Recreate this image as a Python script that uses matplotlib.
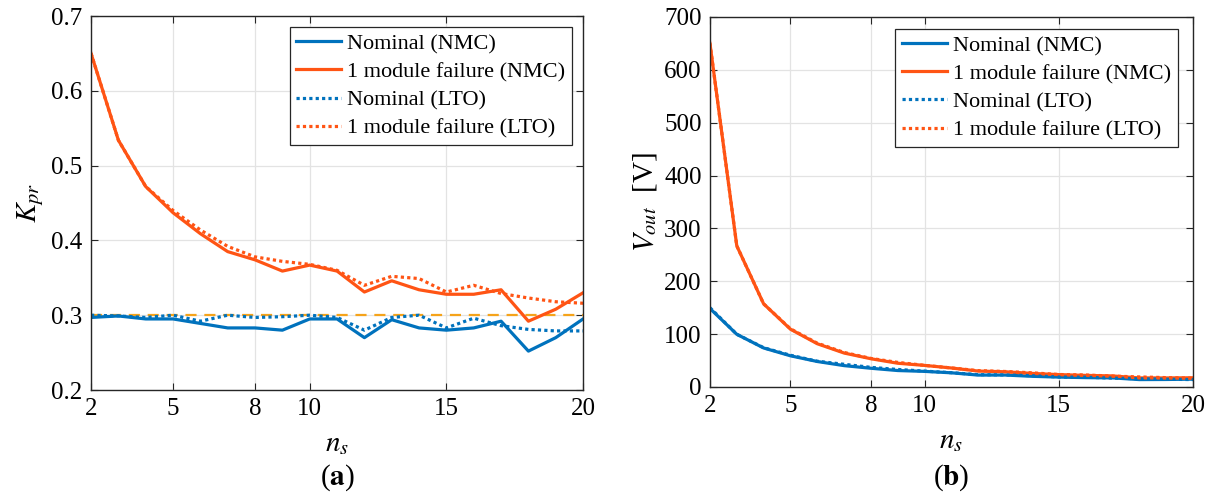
import matplotlib
matplotlib.use("Agg")
import matplotlib.pyplot as plt

# Number of series-connected modules
n_s = [2, 3, 4, 5, 6, 7, 8, 9, 10, 11, 12, 13, 14, 15, 16, 17, 18, 19, 20]

# Power ratio K_pr
kpr_nominal_nmc = [0.297, 0.299, 0.295, 0.295, 0.289, 0.283, 0.283, 0.280, 0.295, 0.295,
                   0.270, 0.294, 0.283, 0.280, 0.283, 0.292, 0.252, 0.270, 0.295]
kpr_failure_nmc = [0.650, 0.534, 0.472, 0.437, 0.409, 0.385, 0.374, 0.359, 0.367, 0.359,
                   0.331, 0.346, 0.334, 0.328, 0.328, 0.334, 0.292, 0.308, 0.330]
kpr_nominal_lto = [0.300, 0.299, 0.297, 0.300, 0.292, 0.300, 0.297, 0.298, 0.300, 0.297,
                   0.280, 0.297, 0.300, 0.283, 0.296, 0.286, 0.281, 0.279, 0.279]
kpr_failure_lto = [0.650, 0.534, 0.472, 0.440, 0.414, 0.392, 0.378, 0.372, 0.368, 0.360,
                   0.340, 0.352, 0.349, 0.331, 0.340, 0.329, 0.323, 0.318, 0.316]
kpr_reference = 0.3

# Output voltage V_out [V]
vout_nominal_nmc = [148.5, 99.7, 73.8, 59.0, 48.2, 40.4, 35.4, 31.1, 29.5, 26.8,
                    22.5, 22.6, 20.2, 18.7, 17.7, 17.2, 14.0, 14.2, 14.8]
vout_failure_nmc = [650.0, 267.0, 157.3, 109.3, 81.8, 64.2, 53.4, 44.9, 40.8, 35.9,
                    30.1, 28.8, 25.7, 23.4, 21.9, 20.9, 17.2, 17.1, 17.4]
vout_nominal_lto = [150.0, 99.7, 74.3, 60.0, 48.7, 42.9, 37.1, 33.1, 30.0, 27.0,
                    23.3, 22.8, 21.4, 18.9, 18.5, 16.8, 15.6, 14.7, 14.0]
vout_failure_lto = [650.0, 267.0, 157.3, 110.0, 82.8, 65.3, 54.0, 46.5, 40.9, 36.0,
                    30.9, 29.3, 26.8, 23.6, 22.7, 20.6, 19.0, 17.7, 16.6]

x_ticks = [2, 5, 8, 10, 15, 20]
kpr_ticks = [0.2, 0.3, 0.4, 0.5, 0.6, 0.7]
vout_ticks = [0, 100, 200, 300, 400, 500, 600, 700]
labels = ["Nominal (NMC)", "1 module failure (NMC)",
          "Nominal (LTO)", "1 module failure (LTO)"]

SERIF = ["Liberation Serif", "DejaVu Serif"]
plt.rcParams["font.family"] = SERIF
plt.rcParams["font.serif"] = SERIF
plt.rcParams["mathtext.fontset"] = "stix"

BLUE = "#0072BD"
ORANGE = "#FF5414"
GOLD = "#F5A31A"
AX_COLOR = "#262626"
LW = 2.3
TICK_FS = 18

fig = plt.figure(figsize=(12.14, 4.96), dpi=100)
ax_a = fig.add_axes([0.075, 0.2137, 0.4053, 0.754])
ax_b = fig.add_axes([0.5848, 0.2198, 0.3979, 0.746])


def style_axes(ax, yticks, yfmt):
    ax.grid(True, color="#e3e3e3", linewidth=0.9)
    ax.set_axisbelow(True)
    for sp in ax.spines.values():
        sp.set_color(AX_COLOR)
        sp.set_linewidth(1.0)
    ax.tick_params(direction="in", length=5, width=0.8, color=AX_COLOR,
                   top=True, right=True, pad=6)
    ax.set_xlim(2, 20)
    ax.set_xticks(x_ticks)
    ax.set_xticklabels([str(v) for v in x_ticks], fontfamily=SERIF, fontsize=TICK_FS)
    ax.set_yticks(yticks)
    ax.set_yticklabels([yfmt(v) for v in yticks], fontfamily=SERIF, fontsize=TICK_FS)
    ax.set_xlabel(r"$n_s$", fontsize=21, labelpad=8)


def draw_series(ax, a, b, c, d):
    ax.plot(n_s, a, color=BLUE, lw=LW, label=labels[0])
    ax.plot(n_s, b, color=ORANGE, lw=LW, label=labels[1])
    ax.plot(n_s, c, color=BLUE, lw=LW, ls=(0, (1, 1)), label=labels[2])
    ax.plot(n_s, d, color=ORANGE, lw=LW, ls=(0, (1, 1)), label=labels[3])


def add_legend(ax, anchor):
    leg = ax.legend(loc="upper right", bbox_to_anchor=anchor,
                    prop={"family": SERIF, "size": 16},
                    handlelength=2.0, handletextpad=0.3, labelspacing=0.34,
                    borderpad=0.3, borderaxespad=0.0, fancybox=False,
                    framealpha=1.0, edgecolor=AX_COLOR)
    leg.get_frame().set_linewidth(0.9)


# (a) power ratio
style_axes(ax_a, kpr_ticks, lambda v: f"{v:.1f}")
draw_series(ax_a, kpr_nominal_nmc, kpr_failure_nmc, kpr_nominal_lto, kpr_failure_lto)
ax_a.axhline(kpr_reference, color=GOLD, lw=1.6, ls=(0, (5, 3.5)), zorder=1.5)
ax_a.set_ylim(0.2, 0.7)
ax_a.set_ylabel(r"$K_{pr}$", fontsize=21, labelpad=4)
add_legend(ax_a, (0.978, 0.971))
ax_a.text(0.5, -0.235, r"($\mathbf{a}$)", transform=ax_a.transAxes,
          ha="center", va="center", fontsize=21)

# (b) output voltage
style_axes(ax_b, vout_ticks, lambda v: f"{v:d}")
draw_series(ax_b, vout_nominal_nmc, vout_failure_nmc, vout_nominal_lto, vout_failure_lto)
ax_b.set_ylim(0, 700)
ax_b.set_ylabel(r"$V_{out}$  [V]", fontsize=21, labelpad=4)
add_legend(ax_b, (0.969, 0.968))
ax_b.text(0.5, -0.245, r"($\mathbf{b}$)", transform=ax_b.transAxes,
          ha="center", va="center", fontsize=21)

fig.savefig("out.png", dpi=100)
